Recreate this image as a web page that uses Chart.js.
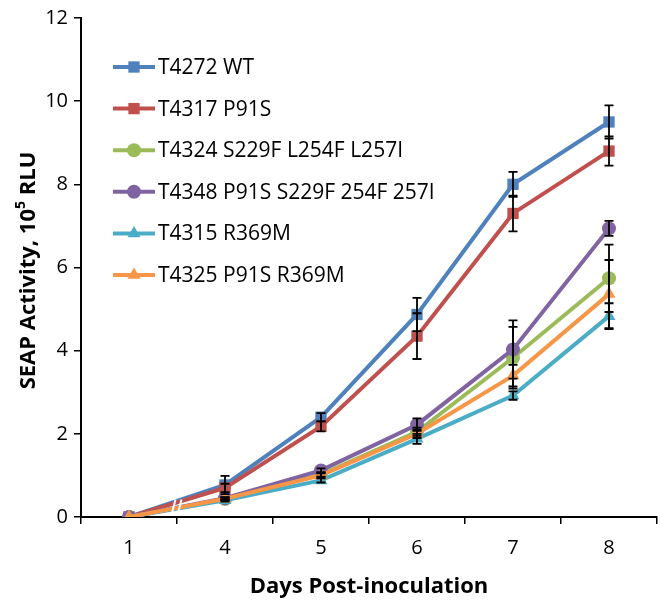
<!DOCTYPE html>
<html>
<head>
<meta charset="utf-8">
<script src="https://cdn.jsdelivr.net/npm/chart.js@4.4.1/dist/chart.umd.min.js"></script>
<style>
  html, body { margin: 0; padding: 0; background: #fff; }
  #wrap { width: 666px; height: 608px; }
</style>
</head>
<body>
<div id="wrap"><canvas id="chart" width="666" height="608"></canvas></div>
<script>
// Days on the x axis (categories)
const days = ["1", "4", "5", "6", "7", "8"];
const yTicks = [0, 2, 4, 6, 8, 10, 12];

const seriesNames = [
  "T4272 WT",
  "T4317 P91S",
  "T4324 S229F L254F L257I",
  "T4348 P91S S229F 254F 257I",
  "T4315 R369M",
  "T4325 P91S R369M",
];

// SEAP activity, 10^5 RLU
const wtValues = [0, 0.77, 2.4, 4.87, 8.0, 9.5];
const p91sValues = [0, 0.7, 2.18, 4.35, 7.3, 8.8];
const s229fValues = [0, 0.43, 1.02, 2.05, 3.83, 5.74];
const p91sS229fValues = [0, 0.45, 1.12, 2.22, 4.03, 6.94];
const r369mValues = [0, 0.4, 0.88, 1.88, 2.92, 4.83];
const p91sR369mValues = [0, 0.44, 1.0, 2.0, 3.4, 5.36];

// error bar half-heights
const wtErr = [0, 0.22, 0.1, 0.4, 0.3, 0.4];
const p91sErr = [0, 0.1, 0.12, 0.55, 0.43, 0.35];
const s229fErr = [0, 0.03, 0.05, 0.1, 0.74, 0.81];
const p91sS229fErr = [0, 0.03, 0.05, 0.15, 0.7, 0.18];
const r369mErr = [0, 0.03, 0.05, 0.12, 0.1, 0.31];
const p91sR369mErr = [0, 0.03, 0.05, 0.1, 0.26, 0.82];

const allValues = [wtValues, p91sValues, s229fValues, p91sS229fValues, r369mValues, p91sR369mValues];
const allErrors = [wtErr, p91sErr, s229fErr, p91sS229fErr, r369mErr, p91sR369mErr];
const colors = ["#4F81BD", "#C0504D", "#9BBB59", "#8064A2", "#4BACC6", "#F79646"];
const markers = ["rect", "rect", "circle", "circle", "triangle", "triangle"];

const fontFamily = "'Open Sans', 'DejaVu Sans', sans-serif";

function markerRadius(style) {
  if (style === "rect") return 8;
  if (style === "triangle") return 7.5;
  return 7;
}

const datasets = allValues.map((values, i) => ({
  label: seriesNames[i],
  data: values,
  borderColor: colors[i],
  backgroundColor: colors[i],
  borderWidth: 4,
  pointStyle: markers[i],
  pointRadius: markerRadius(markers[i]),
  pointBorderWidth: 0,
  tension: 0,
  order: allValues.length - i, // excel draws later series on top
}));

// error bars, axis break, y title and legend
const extrasPlugin = {
  id: "extras",
  afterDatasetsDraw(chart) {
    const ctx = chart.ctx;
    const xs = chart.scales.x;
    const ys = chart.scales.y;

    // white axis-break marks between day 1 and day 4
    let bx = (xs.getPixelForValue(0) + xs.getPixelForValue(1)) / 2;
    let by1 = ys.getPixelForValue(0.05);
    let by2 = ys.getPixelForValue(0.42);
    ctx.save();
    ctx.strokeStyle = "#fff";
    ctx.lineWidth = 2;
    [-3.5, 2.5].forEach((off) => {
      ctx.beginPath();
      ctx.moveTo(bx + off - 2, by1);
      ctx.lineTo(bx + off + 2, by2);
      ctx.stroke();
    });
    ctx.restore();

    // error bars
    ctx.save();
    ctx.strokeStyle = "#000";
    ctx.lineWidth = 1.8;
    allValues.forEach((values, i) => {
      values.forEach((v, j) => {
        let e = allErrors[i][j];
        if (!e) return;
        let x = xs.getPixelForValue(j);
        let top = ys.getPixelForValue(v + e);
        let bot = ys.getPixelForValue(v - e);
        ctx.beginPath();
        ctx.moveTo(x, top);
        ctx.lineTo(x, bot);
        ctx.moveTo(x - 4.5, top);
        ctx.lineTo(x + 4.5, top);
        ctx.moveTo(x - 4.5, bot);
        ctx.lineTo(x + 4.5, bot);
        ctx.stroke();
      });
    });
    ctx.restore();
  },
  afterDraw(chart) {
    const ctx = chart.ctx;
    const area = chart.chartArea;

    // y axis title with superscript
    ctx.save();
    ctx.translate(29, (area.top + area.bottom) / 2 + 3);
    ctx.rotate(-Math.PI / 2);
    ctx.fillStyle = "#000";
    ctx.textBaseline = "middle";
    let bigFont = "bold 22px " + fontFamily;
    let smallFont = "bold 14px " + fontFamily;
    let partA = "SEAP Activity, 10";
    let partB = "5";
    let partC = " RLU";
    ctx.font = bigFont;
    let wA = ctx.measureText(partA).width;
    let wC = ctx.measureText(partC).width;
    ctx.font = smallFont;
    let wB = ctx.measureText(partB).width;
    let x0 = -(wA + wB + wC) / 2;
    ctx.font = bigFont;
    ctx.fillText(partA, x0, 0);
    ctx.font = smallFont;
    ctx.fillText(partB, x0 + wA, -8);
    ctx.font = bigFont;
    ctx.fillText(partC, x0 + wA + wB, 0);
    ctx.restore();

    // legend inside the plot, line + marker like excel
    ctx.save();
    ctx.font = "21px " + fontFamily;
    ctx.textBaseline = "middle";
    chart.data.datasets.forEach((ds, i) => {
      let y = 67 + i * 41.6;
      ctx.strokeStyle = ds.borderColor;
      ctx.lineWidth = 4;
      ctx.beginPath();
      ctx.moveTo(113, y);
      ctx.lineTo(155, y);
      ctx.stroke();
      ctx.fillStyle = ds.backgroundColor;
      Chart.helpers.drawPoint(ctx, { pointStyle: ds.pointStyle, radius: ds.pointRadius, borderWidth: 0 }, 134, y);
      ctx.fillStyle = "#000";
      ctx.fillText(ds.label, 158, y + 1);
    });
    ctx.restore();
  },
};

new Chart(document.getElementById("chart"), {
  type: "line",
  data: {
    labels: days,
    datasets: datasets,
  },
  options: {
    responsive: false,
    animation: false,
    layout: {
      padding: { top: 13, right: 9, left: 0, bottom: 0 },
    },
    plugins: {
      legend: { display: false },
      tooltip: { enabled: false },
    },
    scales: {
      x: {
        type: "category",
        offset: true,
        grid: {
          offset: true,
          drawOnChartArea: false,
          drawTicks: true,
          tickLength: 7,
          color: "#000",
          lineWidth: 1.5,
        },
        border: { color: "#000", width: 2 },
        ticks: {
          color: "#000",
          font: { family: fontFamily, size: 20 },
          padding: 12,
        },
        title: {
          display: true,
          text: "Days Post-inoculation",
          color: "#000",
          font: { family: fontFamily, size: 22, weight: "bold" },
          padding: { top: 4, bottom: 8 },
        },
        afterFit: (scale) => {
          scale.height = 91;
        },
      },
      y: {
        min: 0,
        max: 12,
        afterBuildTicks: (scale) => {
          scale.ticks = yTicks.map((v) => ({ value: v }));
        },
        grid: {
          drawOnChartArea: false,
          drawTicks: true,
          tickLength: 7,
          color: "#000",
          lineWidth: 1.5,
        },
        border: { color: "#000", width: 2 },
        ticks: {
          color: "#000",
          font: { family: fontFamily, size: 20 },
          padding: 6,
        },
        afterFit: (scale) => {
          scale.width = 81;
        },
      },
    },
  },
  plugins: [extrasPlugin],
});
</script>
</body>
</html>
